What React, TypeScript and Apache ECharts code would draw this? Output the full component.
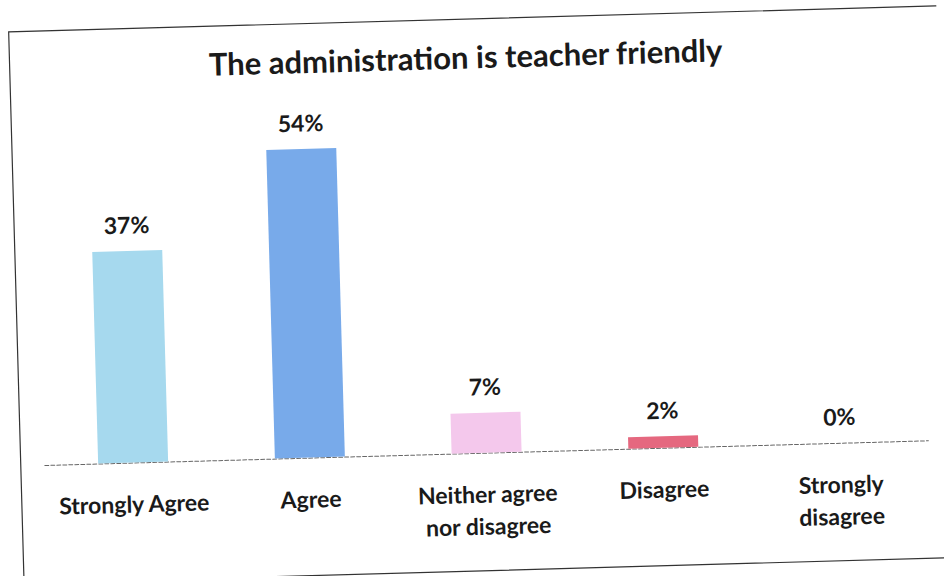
import React, { useEffect, useRef } from "react";
import * as echarts from "echarts";

const categories = ["Strongly Agree", "Agree", "Neither agree\nnor disagree", "Disagree", "Strongly\ndisagree"];
const values = [37, 54, 7, 2, 0];
const colors = ["#a6d9ee", "#78aaea", "#f4c8ec", "#e5687f", "#9e9e9e"];
const titleText = "The administration is teacher friendly";

export default function App() {
  const ref = useRef<HTMLDivElement>(null);
  useEffect(() => {
    if (!ref.current) return;
    const chart = echarts.init(ref.current, null, { renderer: "svg" });
    const font = "Lato, 'Open Sans', sans-serif";
    chart.setOption({
      animation: false,
      backgroundColor: "#ffffff",
      title: {
        text: titleText,
        left: "center",
        top: 36,
        textStyle: { fontFamily: font, fontSize: 31, fontWeight: "bold", color: "#1a1a1a" },
      },
      graphic: [
        {
          type: "rect",
          shape: { x: 16, y: 19, width: 960, height: 552 },
          style: { fill: "none", stroke: "#333333", lineWidth: 1.2 },
          silent: true,
        },
      ],
      grid: { left: 40, right: 20, top: 110, bottom: 123 },
      xAxis: {
        type: "category",
        data: categories,
        axisLine: { show: true, lineStyle: { color: "#666666", width: 1, type: "dashed" } },
        axisTick: { show: false },
        axisLabel: {
          interval: 0,
          margin: 25,
          fontFamily: font,
          fontSize: 23,
          fontWeight: "bold",
          color: "#1a1a1a",
          lineHeight: 32,
        },
      },
      yAxis: {
        type: "value",
        min: 0,
        max: 60,
        show: false,
        splitLine: { show: false },
      },
      series: [
        {
          type: "bar",
          barWidth: 70,
          data: values.map((v, i) => ({ value: v, itemStyle: { color: colors[i] } })),
          label: {
            show: true,
            position: "top",
            distance: 15,
            formatter: "{c}%",
            fontFamily: font,
            fontSize: 23,
            fontWeight: "bold",
            color: "#1a1a1a",
          },
        },
      ],
    });
    return () => chart.dispose();
  }, []);
  return (
    <div style={{ position: "fixed", left: 0, top: 0, width: 944, height: 576, overflow: "hidden", background: "#fff" }}>
      <div
        ref={ref}
        style={{ position: "absolute", left: 0, top: 0, width: 944, height: 576, transform: "rotate(-1.6deg)" }}
      />
    </div>
  );
}
